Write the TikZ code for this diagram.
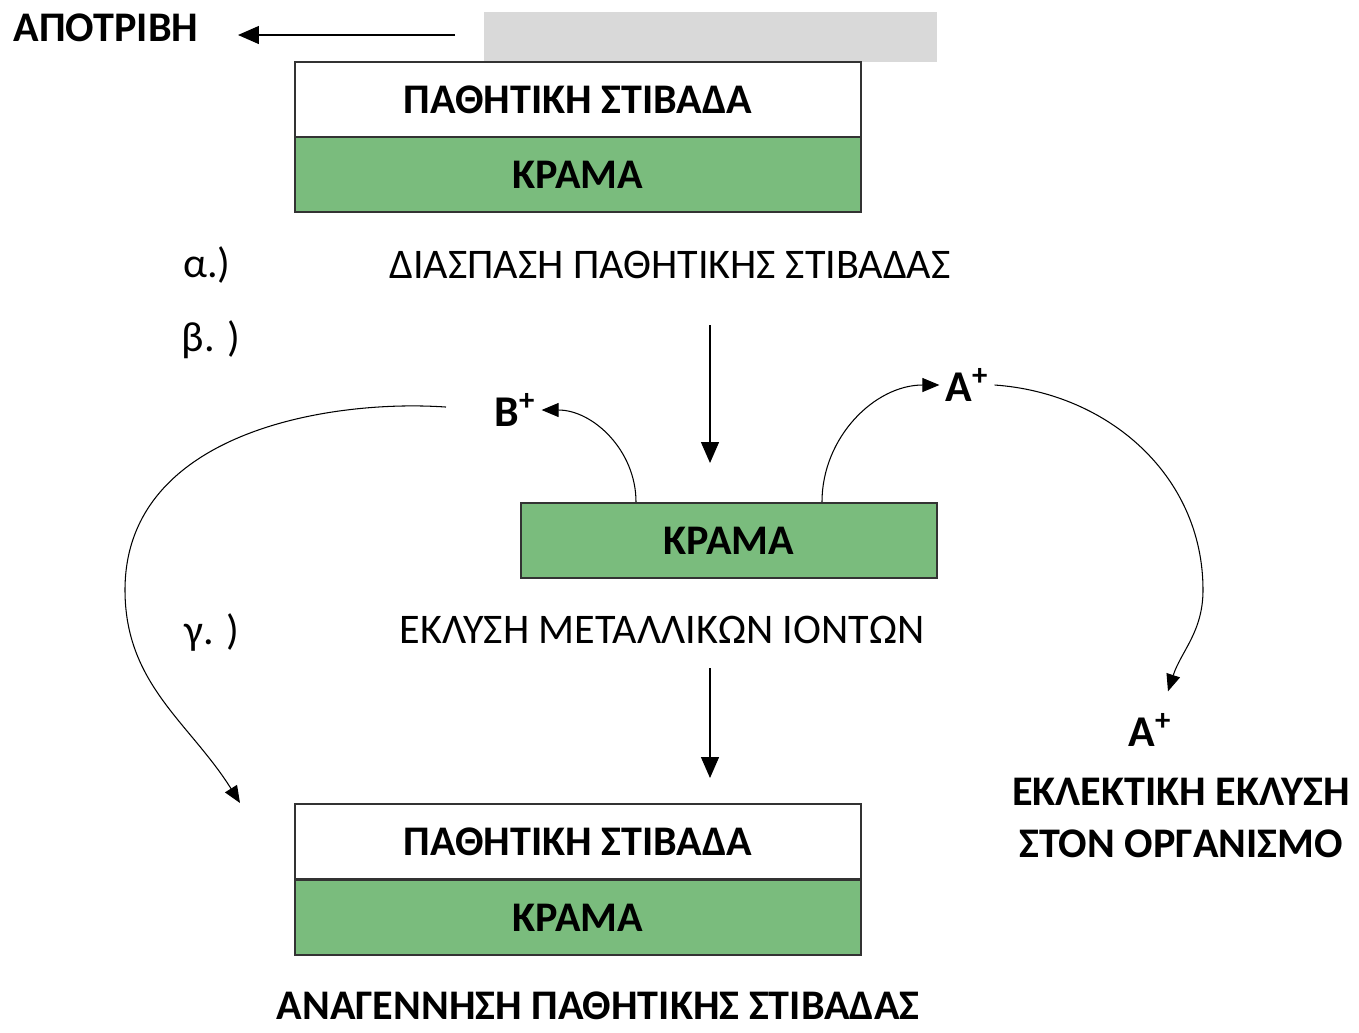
\documentclass[tikz,border=0pt]{standalone}
\usepackage{fontspec}
\setmainfont{Carlito}
\usetikzlibrary{arrows.meta, calc}
\definecolor{alloygreen}{RGB}{122,188,125}
\definecolor{wearGray}{RGB}{217,217,217}
\begin{document}
\begin{tikzpicture}[x=0.02cm, y=-0.02cm]
        \tikzset{layer/.style={draw=black!80, line width=1.2pt, minimum width=11.32cm, minimum height=1.5cm, font=\fontsize{24}{28}\selectfont\bfseries},
                 alloy/.style={layer, fill=alloygreen},
                 flow/.style={line width=0.8pt, -{Triangle[length=0.42cm, width=0.36cm]}},
                 ion/.style={line width=0.6pt, -{Triangle[length=0.34cm, width=0.28cm]}},
                 stagetext/.style={font=\fontsize{24}{28}\selectfont},
                 boldtext/.style={font=\fontsize{24}{28}\selectfont\bfseries},
                 ionlabel/.style={font=\fontsize{25}{29}\selectfont\bfseries}}
        \useasboundingbox (0, 0) rectangle (1359, 1032);
        % wear at the top
        \fill [wearGray] (484, 12) rectangle (937, 62);
        \node (wear) at (106, 28) [boldtext] {ΑΠΟΤΡΙΒΗ};
        \coordinate (wearstart) at (455, 35);
        \draw[flow] (wearstart) -- (238, 35);
        % a.) layers
        \node (passive1) at (578, 99.5) [layer, fill=white] {ΠΑΘΗΤΙΚΗ ΣΤΙΒΑΔΑ};
        \node (alloy1) at (578, 174.5) [alloy] {ΚΡΑΜΑ};
        \node (la) at (207, 265) [stagetext] {α.)};
        \node (ta) at (670, 265) [stagetext] {ΔΙΑΣΠΑΣΗ ΠΑΘΗΤΙΚΗΣ ΣΤΙΒΑΔΑΣ};
        % b.) ions
        \node (lb) at (211, 340) [stagetext] {β. )};
        \coordinate (down1) at (710, 325);
        \node (alloy2) at (729, 540.5) [alloy, minimum width=8.32cm] {ΚΡΑΜΑ};
        \draw[flow] (down1) -- (710, 463);
        \node (bion) at (515, 410) [ionlabel] {B\textsuperscript{+}};
        \node (aion) at (967, 385) [ionlabel] {A\textsuperscript{+}};
        \draw[ion] (alloy2.north -| 636, 0) to[out=90, in=0] (bion.east);
        \draw[ion] (alloy2.north -| 822, 0) to[out=90, in=180] (aion.west);
        \draw[ion, shorten <=0.85cm] (bion.west) to[out=176, in=90] (125, 590) to[out=-90, in=122] (240, 803);
        \node (aout) at (1150, 730) [ionlabel] {A\textsuperscript{+}};
        \draw[ion] (aion.east) to[out=-4, in=90] (1203, 590) to[out=-90, in=72] ($(aout.north)+(18, -16)$);
        % c.) release
        \node (lc) at (212, 632) [stagetext] {γ. )};
        \node (tc) at (662, 630) [stagetext] {ΕΚΛΥΣΗ ΜΕΤΑΛΛΙΚΩΝ ΙΟΝΤΩΝ};
        \coordinate (down2) at (710, 668);
        \draw[flow] (down2) -- (710, 778);
        \node (passive2) at (578, 841.5) [layer, fill=white] {ΠΑΘΗΤΙΚΗ ΣΤΙΒΑΔΑ};
        \node (alloy3) at (578, 917.5) [alloy] {ΚΡΑΜΑ};
        \node (regen) at (598, 1006) [boldtext, inner sep=1pt] {ΑΝΑΓΕΝΝΗΣΗ ΠΑΘΗΤΙΚΗΣ ΣΤΙΒΑΔΑΣ};
        \node (body) at (1181, 818) [align=center, font=\fontsize{24}{30}\selectfont\bfseries] {ΕΚΛΕΚΤΙΚΗ ΕΚΛΥΣΗ\\ΣΤΟΝ ΟΡΓΑΝΙΣΜΟ};
\end{tikzpicture}
\end{document}
